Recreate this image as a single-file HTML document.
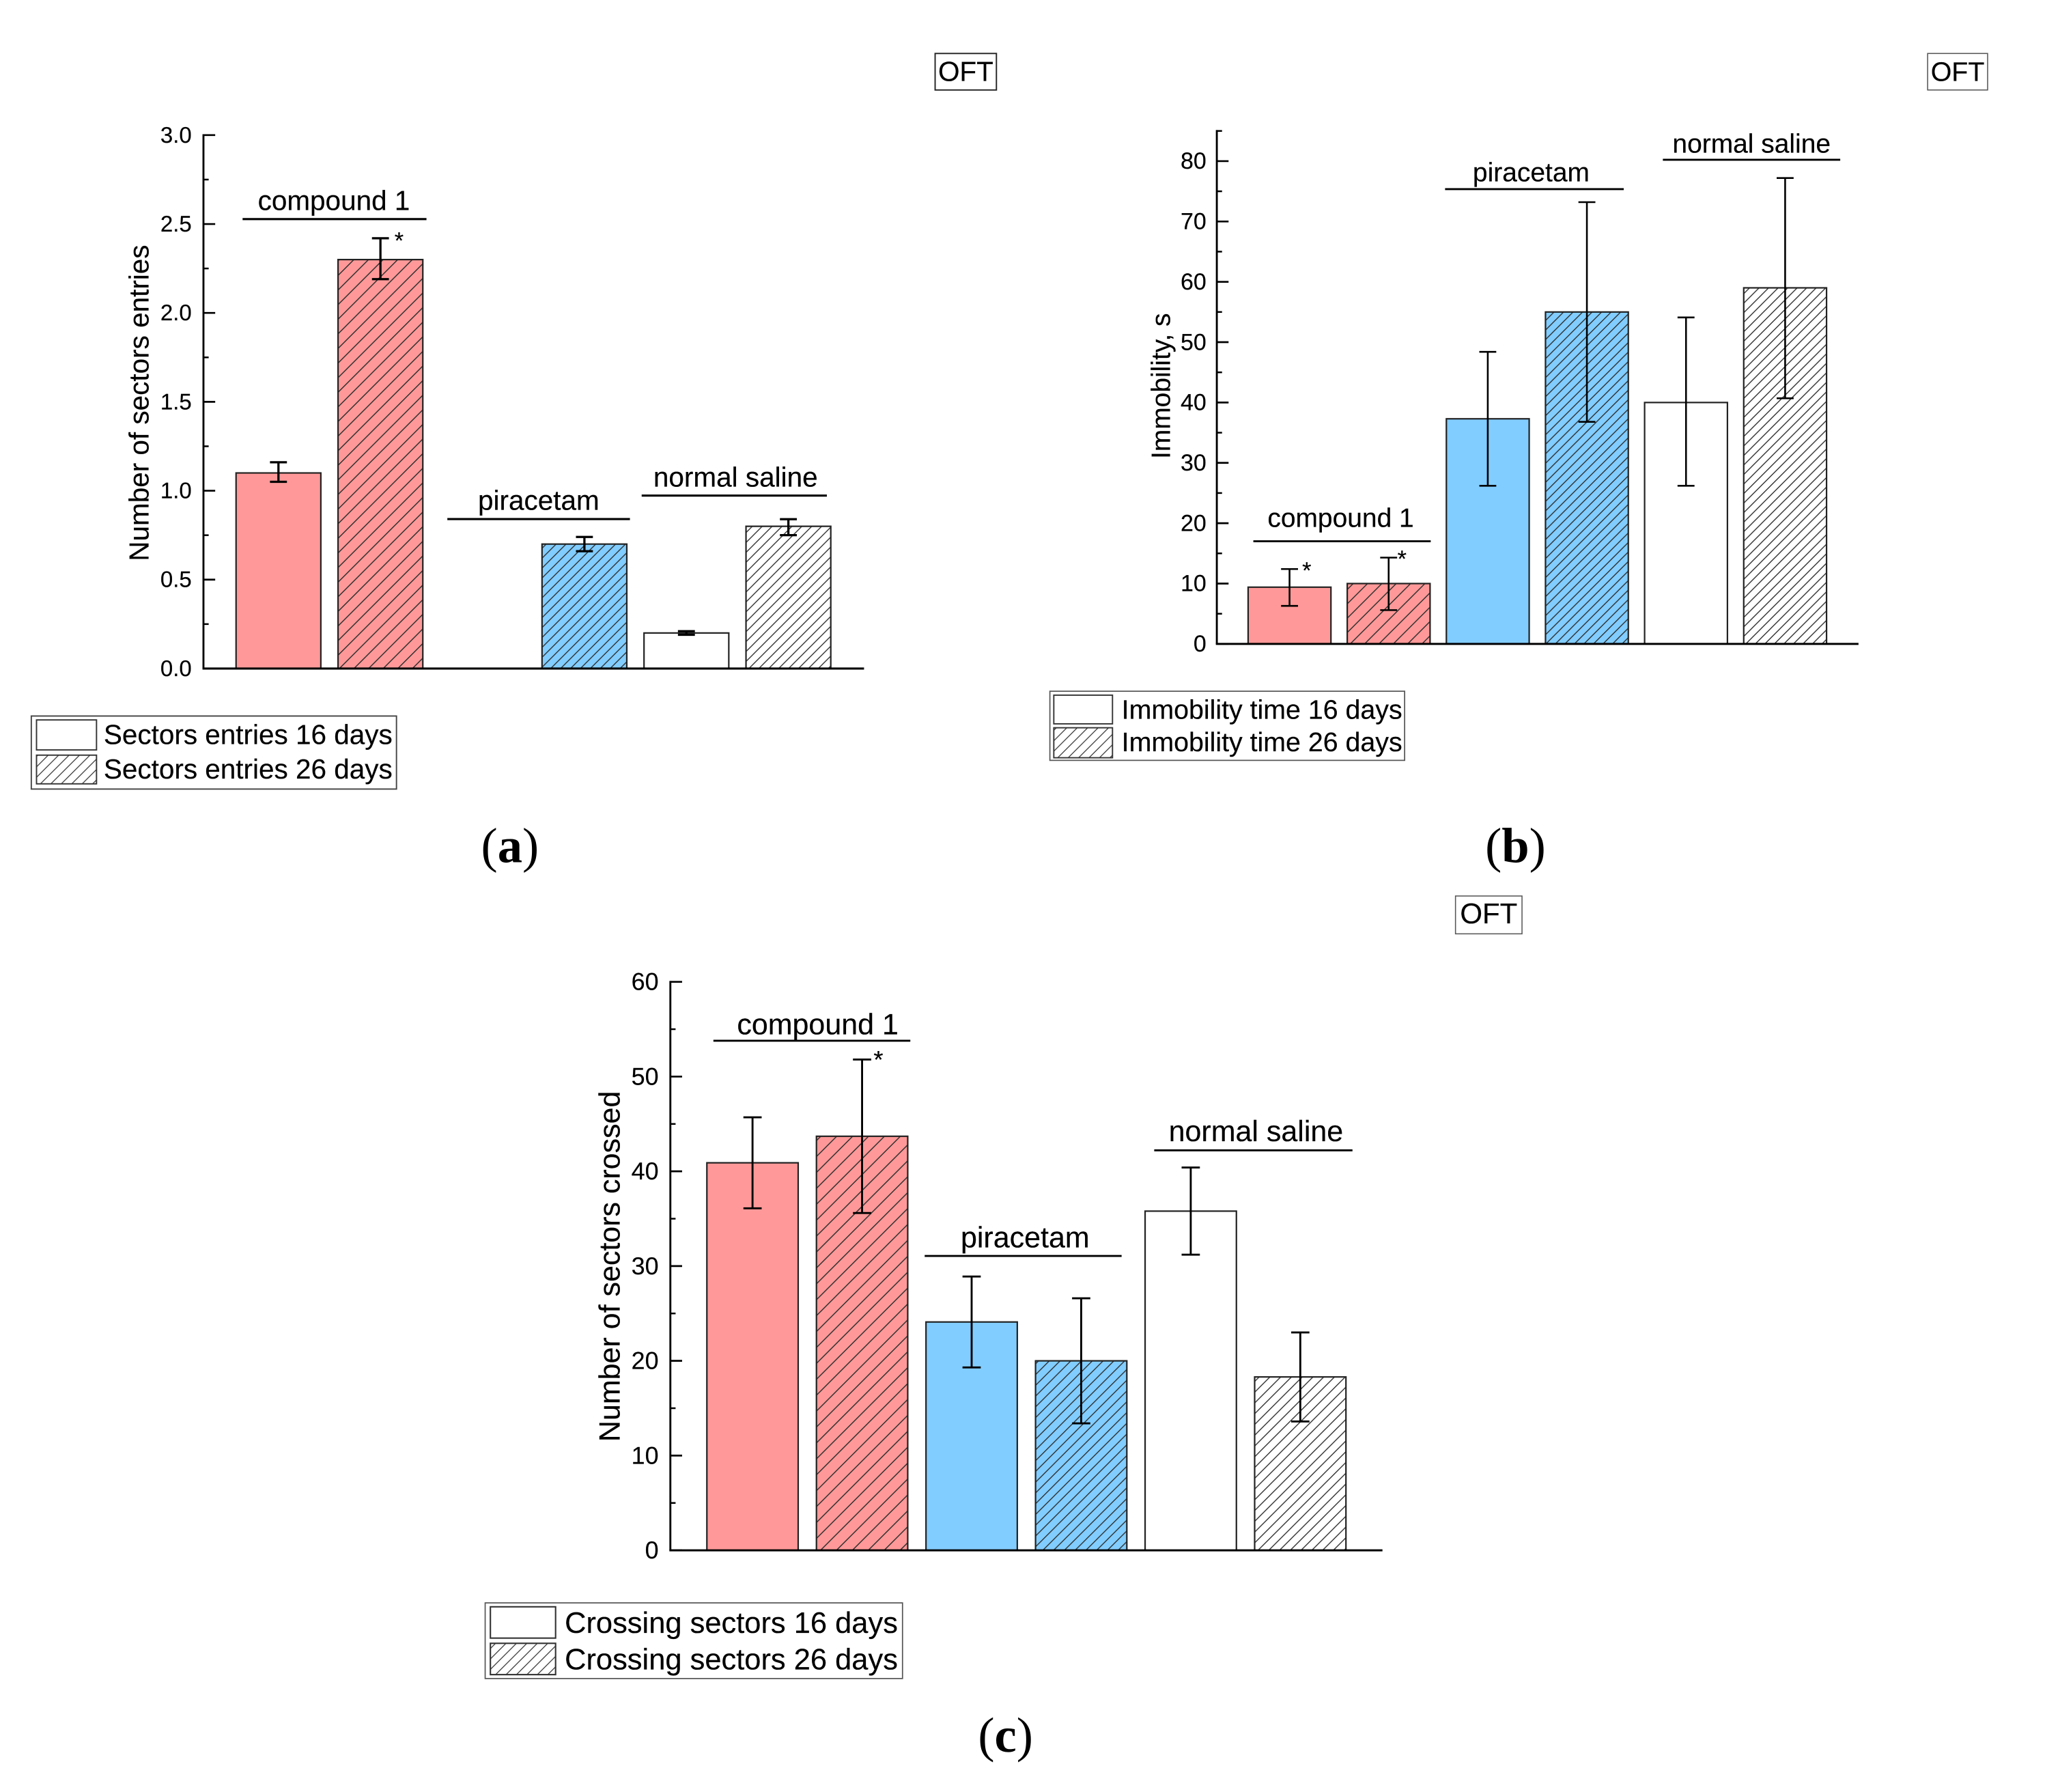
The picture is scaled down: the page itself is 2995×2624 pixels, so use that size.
<!DOCTYPE html>
<html lang="en">
<head>
<meta charset="utf-8">
<title>OFT behavioural results</title>
<style>
html,body{margin:0;padding:0;background:#fff;}
svg{display:block;}
text{font-family:"Liberation Sans",sans-serif;fill:#000;stroke:#000;stroke-width:.1px;text-rendering:geometricPrecision;}
.panel-letter{font-family:"Liberation Serif",serif;font-size:38px;stroke-width:0;}
.panel-letter .b{font-weight:bold;}
</style>
</head>
<body>
<svg id="figure" xmlns="http://www.w3.org/2000/svg" width="2995" height="2624" viewBox="0 0 1568 1374" preserveAspectRatio="none">
  <defs id="defs">
    <pattern id="hatch-legend" patternUnits="userSpaceOnUse" width="8" height="8"><rect width="8" height="8" fill="#fff"/><path d="M-1 1L1 -1M0 8L8 0M7 9L9 7" stroke="#333" stroke-width=".65" fill="none"/></pattern>
  </defs>

  <!-- Panel a -->
  <g id="chart-a">
    <text transform="translate(114 309) rotate(-90)" text-anchor="middle" font-size="21.2">Number of sectors entries</text>
    <g><text text-anchor="middle" x="256" y="161" font-size="21.2">compound 1</text><line x1="186" x2="327" y1="168" y2="168" stroke="#000" stroke-width="1.6"/></g>
    <g><text text-anchor="middle" x="413" y="391" font-size="21.2">piracetam</text><line x1="343" x2="483" y1="398" y2="398" stroke="#000" stroke-width="1.6"/></g>
    <g><text text-anchor="middle" x="564" y="373" font-size="21.2">normal saline</text><line x1="492" x2="634" y1="380" y2="380" stroke="#000" stroke-width="1.6"/></g>
    <text x="306" y="190.5" text-anchor="middle" font-size="18">*</text>
    <g>
      <rect x="24" y="549" width="280" height="56" fill="#fff" stroke="#444" stroke-width="1"/>
      <rect x="28" y="552" width="46" height="23" fill="#fff" stroke="#333" stroke-width="1"/>
      <rect x="28" y="579" width="46" height="22" fill="url(#hatch-legend)" stroke="#333" stroke-width="1"/>
      <text x="79.5" y="570.5" font-size="21.2">Sectors entries 16 days</text>
      <text x="79.5" y="597" font-size="21.2">Sectors entries 26 days</text>
    </g>
  </g>
  <g><rect x="717" y="41" width="47" height="28" fill="#fff" stroke="#222" stroke-width="1"/><text x="740.5" y="62" text-anchor="middle" font-size="21.2">OFT</text></g>
  <text class="panel-letter" x="391" y="661" text-anchor="middle">(<tspan class="b">a</tspan>)</text>

  <!-- Panel b -->
  <g id="chart-b">
    <text transform="translate(897 296) rotate(-90)" text-anchor="middle" font-size="20.4">Immobility, s</text>
    <g><text text-anchor="middle" x="1028" y="404" font-size="20.4">compound 1</text><line x1="961" x2="1097" y1="415" y2="415" stroke="#000" stroke-width="1.5"/></g>
    <g><text text-anchor="middle" x="1174" y="139" font-size="20.4">piracetam</text><line x1="1108" x2="1245" y1="145" y2="145" stroke="#000" stroke-width="1.5"/></g>
    <g><text text-anchor="middle" x="1343" y="117" font-size="20.4">normal saline</text><line x1="1275" x2="1411" y1="122.5" y2="122.5" stroke="#000" stroke-width="1.5"/></g>
    <text x="1002" y="443.5" text-anchor="middle" font-size="18">*</text>
    <text x="1075" y="434.5" text-anchor="middle" font-size="18">*</text>
    <g>
      <rect x="805" y="530" width="272" height="53" fill="#fff" stroke="#555" stroke-width=".9"/>
      <rect x="808" y="533" width="45" height="22" fill="#fff" stroke="#333" stroke-width="1"/>
      <rect x="808" y="558" width="45" height="23" fill="url(#hatch-legend)" stroke="#333" stroke-width="1"/>
      <text x="860" y="551" font-size="20.6">Immobility time 16 days</text>
      <text x="860" y="576" font-size="20.6">Immobility time 26 days</text>
    </g>
  </g>
  <g><rect x="1478" y="41" width="46" height="28" fill="#fff" stroke="#555" stroke-width=".8"/><text x="1501" y="62" text-anchor="middle" font-size="20.6">OFT</text></g>
  <text class="panel-letter" x="1162" y="661" text-anchor="middle">(<tspan class="b">b</tspan>)</text>

  <!-- Panel c -->
  <g id="chart-c">
    <text transform="translate(475 971) rotate(-90)" text-anchor="middle" font-size="22.5">Number of sectors crossed</text>
    <g><text text-anchor="middle" x="627" y="793" font-size="22.5">compound 1</text><line x1="547" x2="698" y1="798" y2="798" stroke="#000" stroke-width="1.5"/></g>
    <g><text text-anchor="middle" x="786" y="956.5" font-size="22.5">piracetam</text><line x1="709" x2="860" y1="963" y2="963" stroke="#000" stroke-width="1.5"/></g>
    <g><text text-anchor="middle" x="963" y="875" font-size="22.5">normal saline</text><line x1="885" x2="1037" y1="882" y2="882" stroke="#000" stroke-width="1.5"/></g>
    <text x="673.5" y="819" text-anchor="middle" font-size="19">*</text>
    <g>
      <rect x="372" y="1229" width="320" height="58" fill="#fff" stroke="#555" stroke-width=".9"/>
      <rect x="376" y="1232" width="50" height="24" fill="#fff" stroke="#333" stroke-width="1.1"/>
      <rect x="376" y="1260" width="50" height="24" fill="url(#hatch-legend)" stroke="#333" stroke-width="1.1"/>
      <text x="433" y="1252" font-size="22.75">Crossing sectors 16 days</text>
      <text x="433" y="1280" font-size="22.75">Crossing sectors 26 days</text>
    </g>
  </g>
  <g><rect x="1116" y="687" width="51" height="29" fill="#fff" stroke="#555" stroke-width=".8"/><text x="1141.5" y="708" text-anchor="middle" font-size="22">OFT</text></g>
  <text class="panel-letter" x="771" y="1343" text-anchor="middle">(<tspan class="b">c</tspan>)</text>
</svg>

<script>
const categories = ['compound-1-16', 'compound-1-26', 'piracetam-16', 'piracetam-26', 'saline-16', 'saline-26'];

const entriesValues = [1.1, 2.3, null, 0.7, 0.2, 0.8];
const entriesLow = [1.05, 2.19, null, 0.66, 0.19, 0.75];
const entriesHigh = [1.16, 2.42, null, 0.74, 0.21, 0.84];
const entriesTicks = [0, 0.5, 1, 1.5, 2, 2.5, 3];
const entriesTickLabels = ['0.0', '0.5', '1.0', '1.5', '2.0', '2.5', '3.0'];
const entriesMinorTicks = [0.25, 0.75, 1.25, 1.75, 2.25, 2.75];

const immobilityValues = [9.4, 10, 37.3, 55, 40, 59];
const immobilityLow = [6.3, 5.6, 26.2, 36.8, 26.2, 40.7];
const immobilityHigh = [12.4, 14.3, 48.4, 73.2, 54.1, 77.2];
const immobilityTicks = [0, 10, 20, 30, 40, 50, 60, 70, 80];
const immobilityTickLabels = ['0', '10', '20', '30', '40', '50', '60', '70', '80'];
const immobilityMinorTicks = [5, 15, 25, 35, 45, 55, 65, 75, 85];

const crossedValues = [40.9, 43.7, 24.1, 20, 35.8, 18.3];
const crossedLow = [36.1, 35.6, 19.3, 13.4, 31.2, 13.6];
const crossedHigh = [45.7, 51.8, 28.9, 26.6, 40.4, 23.0];
const crossedTicks = [0, 10, 20, 30, 40, 50, 60];
const crossedTickLabels = ['0', '10', '20', '30', '40', '50', '60'];
const crossedMinorTicks = [5, 15, 25, 35, 45, 55];

const SVG_NS = 'http://www.w3.org/2000/svg';

function shape(parent, tag, props) {
  const node = document.createElementNS(SVG_NS, tag);
  Object.keys(props).forEach(function (k) { node.setAttribute(k, props[k]); });
  parent.appendChild(node);
  return node;
}

function hatchPattern(id, bg, pitch, width) {
  const defs = document.getElementById('defs');
  const p = shape(defs, 'pattern', { id: id, patternUnits: 'userSpaceOnUse', width: pitch, height: pitch });
  shape(p, 'rect', { width: pitch, height: pitch, fill: bg });
  const d = 'M-1 1L1 -1M0 ' + pitch + 'L' + pitch + ' 0M' + (pitch - 1) + ' ' + (pitch + 1) + 'L' + (pitch + 1) + ' ' + (pitch - 1);
  shape(p, 'path', { d: d, stroke: '#2a2a2a', 'stroke-width': width, fill: 'none' });
  return 'url(#' + id + ')';
}

function drawChart(opts) {
  const root = document.getElementById(opts.id);
  const y = function (v) { return opts.y0 - v * (opts.y0 - opts.yMaxPx) / opts.yMax; };
  const hatches = [
    hatchPattern(opts.id + '-hatch-red', '#ff9999', opts.redPitch, 0.75),
    hatchPattern(opts.id + '-hatch-blue', '#82cdff', opts.finePitch, 0.7),
    hatchPattern(opts.id + '-hatch-white', '#ffffff', opts.finePitch, 0.7)
  ];
  const plot = shape(root, 'g', {});
  
  

  categories.forEach(function (cat, i) {
    const v = opts.values[i];
    if (v === null) return;
    const left = opts.barStart + i * opts.barStep;
    const group = Math.floor(i / 2);
    const hatched = i % 2 === 1;
    const solid = ['#ff9999', '#82cdff', '#ffffff'][group];
    const bar = shape(plot, 'rect', {
      x: left, y: y(v), width: opts.barWidth, height: opts.y0 - y(v),
      fill: hatched ? hatches[group] : solid, stroke: '#222', 'stroke-width': 1.15
    });
    
    
  });

  categories.forEach(function (cat, i) {
    if (opts.values[i] === null) return;
    const cx = opts.barStart + i * opts.barStep + opts.barWidth / 2;
    const hi = y(opts.high[i]);
    const lo = y(opts.low[i]);
    const d = 'M' + cx + ' ' + hi + 'V' + lo +
      'M' + (cx - opts.cap) + ' ' + hi + 'H' + (cx + opts.cap) +
      'M' + (cx - opts.cap) + ' ' + lo + 'H' + (cx + opts.cap);
    const err = shape(plot, 'path', { d: d, fill: 'none', stroke: '#000', 'stroke-width': opts.errWidth });
    
    
  });

  const yAxis = shape(root, 'g', {});
  
  
  shape(yAxis, 'line', { x1: opts.axisX, x2: opts.axisX, y1: y(opts.yMax) - 0.7, y2: opts.y0, stroke: '#000', 'stroke-width': 1.5 });

  opts.ticks.forEach(function (t, i) {
    const tick = shape(yAxis, 'line', { x1: opts.axisX, x2: opts.axisX + 9, y1: y(t), y2: y(t), stroke: '#000', 'stroke-width': 1.4 });
    
    
    const label = shape(yAxis, 'text', { x: opts.labelX, y: y(t) + opts.tickFont * 0.36 - 0.5, 'text-anchor': 'end', 'font-size': opts.tickFont });
    label.textContent = opts.tickLabels[i];
    
    
  });

  opts.minor.forEach(function (t) {
    const tick = shape(yAxis, 'line', { x1: opts.axisX, x2: opts.axisX + 4, y1: y(t), y2: y(t), stroke: '#000', 'stroke-width': 1.3 });
    
    
  });

  const xAxis = shape(root, 'line', { x1: opts.axisX - 0.75, x2: opts.axisEnd, y1: opts.y0, y2: opts.y0, stroke: '#000', 'stroke-width': 1.6 });
  
  
}

drawChart({
  id: 'chart-a', values: entriesValues, low: entriesLow, high: entriesHigh,
  ticks: entriesTicks, tickLabels: entriesTickLabels, minor: entriesMinorTicks,
  yMax: 3, y0: 512.6, yMaxPx: 103.6, axisX: 156, axisEnd: 662.5, labelX: 147, tickFont: 17.3,
  barStart: 181, barStep: 78.2, barWidth: 65, cap: 6.5, errWidth: 1.7, redPitch: 11.2, finePitch: 7.6
});

drawChart({
  id: 'chart-b', values: immobilityValues, low: immobilityLow, high: immobilityHigh,
  ticks: immobilityTicks, tickLabels: immobilityTickLabels, minor: immobilityMinorTicks,
  yMax: 85, y0: 493.7, yMaxPx: 100.4, axisX: 933, axisEnd: 1425, labelX: 925, tickFont: 17.8,
  barStart: 957, barStep: 76, barWidth: 63.5, cap: 6.5, errWidth: 1.35, redPitch: 11, finePitch: 7.3
});

drawChart({
  id: 'chart-c', values: crossedValues, low: crossedLow, high: crossedHigh,
  ticks: crossedTicks, tickLabels: crossedTickLabels, minor: crossedMinorTicks,
  yMax: 60, y0: 1188.7, yMaxPx: 752.8, axisX: 514, axisEnd: 1060, labelX: 505, tickFont: 18.8,
  barStart: 542, barStep: 84, barWidth: 70, cap: 7, errWidth: 1.5, redPitch: 12.2, finePitch: 8.25
});
</script>
</body>
</html>
